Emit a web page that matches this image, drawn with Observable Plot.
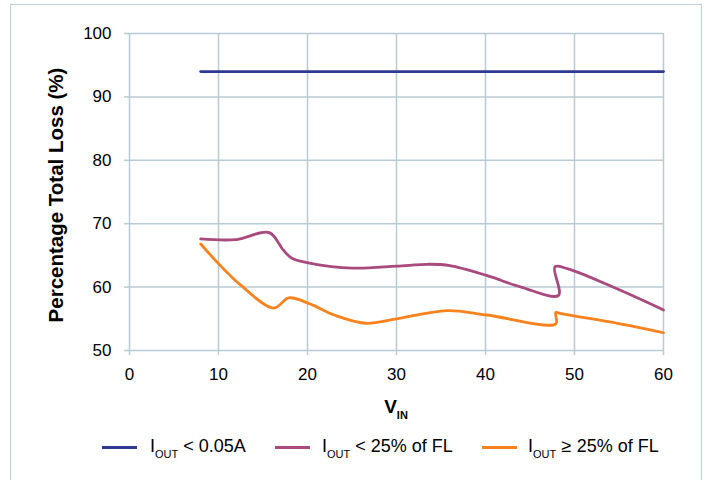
<!DOCTYPE html>
<html>
<head>
<meta charset="utf-8">
<script src="https://cdn.jsdelivr.net/npm/d3@7"></script>
<script src="https://cdn.jsdelivr.net/npm/@observablehq/plot@0.6"></script>
<style>
  html, body { margin: 0; padding: 0; background: #fff; }
  #wrap { position: relative; width: 709px; height: 480px; font-family: "Liberation Sans", Arial, sans-serif; overflow: hidden; }
  #border { position: absolute; left: 10px; top: 4px; width: 692px; height: 490px; border: 1.5px solid #b9d0da; box-sizing: border-box; }
  #chart { position: absolute; left: 0; top: 0; }
  #xlabel { position: absolute; left: 0; width: 709px; top: 396px; text-align: center; font-weight: bold; font-size: 19px; color: #000; padding-left: 83px; box-sizing: border-box; }
  #xlabel sub { font-size: 11px; vertical-align: -6px; }
  .leg { position: absolute; top: 436px; font-size: 18px; color: #000; white-space: nowrap; }
  .leg sub { font-size: 11px; vertical-align: -6px; }
  .leg .sym { display: inline-block; width: 10.5px; text-align: center; }
  .sw { position: absolute; top: 446px; height: 3px; width: 35px; }
</style>
</head>
<body>
<div id="wrap">
  <div id="border"></div>
  <div id="chart"></div>
  <div id="xlabel">V<sub>IN</sub></div>
</div>
<script>
const xTicks = [0, 10, 20, 30, 40, 50, 60];
const yTicks = [50, 60, 70, 80, 90, 100];
const seriesNames = ["I_OUT < 0.05A", "I_OUT < 25% of FL", "I_OUT ≥ 25% of FL"];
const seriesColors = ["#2e3a92", "#a84a7e", "#f7821e"];

const lowX = [8, 60];
const lowY = [94, 94];

const midX = [8, 12, 15.7, 17.3, 18.3, 20.2, 25, 30, 33.5, 36, 40.2, 44, 48.2, 47.8, 49.2, 54, 60];
const midY = [67.6, 67.5, 68.6, 65.8, 64.5, 63.8, 63.0, 63.3, 63.6, 63.4, 61.8, 60.0, 58.7, 63.2, 62.9, 60.2, 56.4];

const highX = [8, 10, 12.5, 16.2, 17.9, 20.2, 23, 26.5, 30, 35.7, 40.2, 47.9, 47.9, 48.5, 54, 60];
const highY = [66.8, 63.7, 60.3, 56.7, 58.3, 57.4, 55.6, 54.3, 55.0, 56.3, 55.6, 54.2, 56.0, 55.8, 54.5, 52.8];

const toRows = (xs, ys) => xs.map((x, i) => ({x, y: ys[i]}));
const rows = [toRows(lowX, lowY), toRows(midX, midY), toRows(highX, highY)];

const gridColor = "#b8cad3";

const plot = Plot.plot({
  width: 709,
  height: 420,
  marginLeft: 129,
  marginRight: 46,
  marginTop: 33,
  marginBottom: 70,
  style: { fontFamily: "Liberation Sans, Arial, sans-serif", fontSize: "17px", color: "#000", background: "transparent" },
  x: { domain: [0, 60] },
  y: { domain: [50, 100] },
  marks: [
    Plot.gridX(xTicks, { stroke: gridColor, strokeOpacity: 1, strokeWidth: 1.5 }),
    Plot.gridY(yTicks, { stroke: gridColor, strokeOpacity: 1, strokeWidth: 1.5 }),
    Plot.axisY(yTicks, { tickSize: 5, tickPadding: 13, stroke: gridColor, strokeWidth: 1.5, fontSize: 17, label: null }),
    Plot.axisX(xTicks, { tickSize: 5, tickPadding: 12, stroke: gridColor, strokeWidth: 1.5, fontSize: 17, label: null }),
    Plot.text(["Percentage Total Loss (%)"], { frameAnchor: "left", textAnchor: "middle", lineAnchor: "middle", rotate: -90, dx: -73, dy: 3, fontWeight: "bold", fontSize: 20.5, fill: "#000" }),
    ...rows.map((r, i) => Plot.line(r, { x: "x", y: "y", stroke: seriesColors[i], strokeWidth: 2.8, curve: "catmull-rom" }))
  ]
});
document.getElementById("chart").appendChild(plot);

// legend
const wrap = document.getElementById("wrap");
const legPos = [[102, 150], [275, 322], [482, 528]];
seriesNames.forEach((name, i) => {
  const sw = document.createElement("div");
  sw.className = "sw";
  sw.style.left = legPos[i][0] + "px";
  sw.style.background = seriesColors[i];
  wrap.appendChild(sw);
  const t = document.createElement("div");
  t.className = "leg";
  t.style.left = legPos[i][1] + "px";
  const rest = name.replace("I_OUT ", "");
  const sym = rest[0] === "<" ? "&lt;" : rest[0];
  t.innerHTML = "I<sub>OUT</sub> <span class=\"sym\">" + sym + "</span>" + rest.slice(1);
  wrap.appendChild(t);
});
</script>
</body>
</html>
